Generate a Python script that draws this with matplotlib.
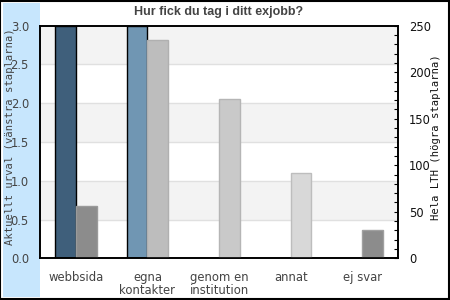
import numpy as np
import matplotlib
matplotlib.use("Agg")
import matplotlib.pyplot as plt
from matplotlib.patches import Rectangle
from matplotlib.ticker import MultipleLocator

categories = ["webbsida", "egna\nkontakter", "genom en\ninstitution", "annat", "ej svar"]
urval = [3.0, 3.0, 0, 0, 0]              # vänstra staplarna (vänster axel)
hela_lth = [56, 235, 171, 92, 30]        # högra staplarna (höger axel)

left_colors = ["#3f5f7b", "#7096b3", "#7096b3", "#7096b3", "#7096b3"]
right_colors = ["#8c8c8c", "#bdbdbd", "#c9c9c9", "#d8d8d8", "#8c8c8c"]
right_edges = ["#9a9a9a", "#b0b0b0", "#b5b5b5", "#bdbdbd", "#a0a0a0"]

fig = plt.figure(figsize=(4.5, 3), dpi=100)
fig.patch.set_facecolor("white")

# blue strip at the left and border round the figure
fig.patches.append(Rectangle((3 / 450, 3.5 / 300), 37 / 450, 293.5 / 300,
                             transform=fig.transFigure, facecolor="#c7e6fd",
                             edgecolor="none", zorder=-5))
fig.patches.append(Rectangle((0.001, 0.003), 0.996, 0.995,
                             transform=fig.transFigure, facecolor="none",
                             edgecolor="black", linewidth=1.5, zorder=5))

ax = fig.add_axes([40 / 450, 41.7 / 300, 358 / 450, 232.6 / 300])
ax.set_xlim(-0.5, 4.5)
ax.set_ylim(0, 3)

# alternating bands + grid
for lo in np.arange(0.5, 3.0, 1.0):
    ax.axhspan(lo, lo + 0.5, color="#f3f3f3", zorder=0, lw=0)
for yv in np.arange(0.5, 3.0, 0.5):
    ax.axhline(yv, color="#e0e0e0", lw=1, zorder=0.5)

x = np.arange(len(categories))
w = 0.29
ax2 = ax.twinx()
ax2.set_ylim(0, 250)

for i in range(len(categories)):
    if urval[i] > 0:
        ax.bar(x[i] - w / 2, urval[i], w, color=left_colors[i],
               edgecolor="black", linewidth=1, zorder=2)
ax2.bar(x + w / 2, hela_lth, w, color=right_colors, edgecolor=right_edges,
        linewidth=1, zorder=2)

ax.set_xticks(x)
ax.set_xticklabels(categories, color="#444444", fontsize=8.4, linespacing=1.05)
ax.tick_params(axis="x", length=0, pad=9)
ax.set_yticks(np.arange(0, 3.01, 0.5))
ax.set_yticklabels([f"{v:.1f}" for v in np.arange(0, 3.01, 0.5)])
ax.tick_params(axis="y", length=0, pad=8, labelsize=8.3, labelcolor="#444444")

ax2.yaxis.set_major_locator(MultipleLocator(50))
ax2.yaxis.set_minor_locator(MultipleLocator(10))
ax2.tick_params(axis="y", which="both", direction="in", length=3,
                width=0.8, pad=8, labelsize=8.3, labelcolor="#111111")

for a in (ax, ax2):
    for s in a.spines.values():
        s.set_color("black")
        s.set_linewidth(1.2)

ax.set_zorder(1)
ax2.set_zorder(2)
ax2.patch.set_visible(False)

fig.text(219 / 450, 1 - 12 / 300, "Hur fick du tag i ditt exjobb?",
         ha="center", va="center", fontsize=9, fontweight="bold",
         family="Liberation Sans", color="#444444")
fig.text(10 / 450, 1 - 137 / 300, "Aktuellt urval (vänstra staplarna)",
         rotation=90, ha="center", va="center", fontsize=7.6,
         family="DejaVu Sans Mono", color="#444444")
fig.text(436 / 450, 1 - 137 / 300, "Hela LTH (högra staplarna)",
         rotation=90, ha="center", va="center", fontsize=7.6,
         family="DejaVu Sans Mono", color="#111111")

fig.savefig("out.png", dpi=100)
